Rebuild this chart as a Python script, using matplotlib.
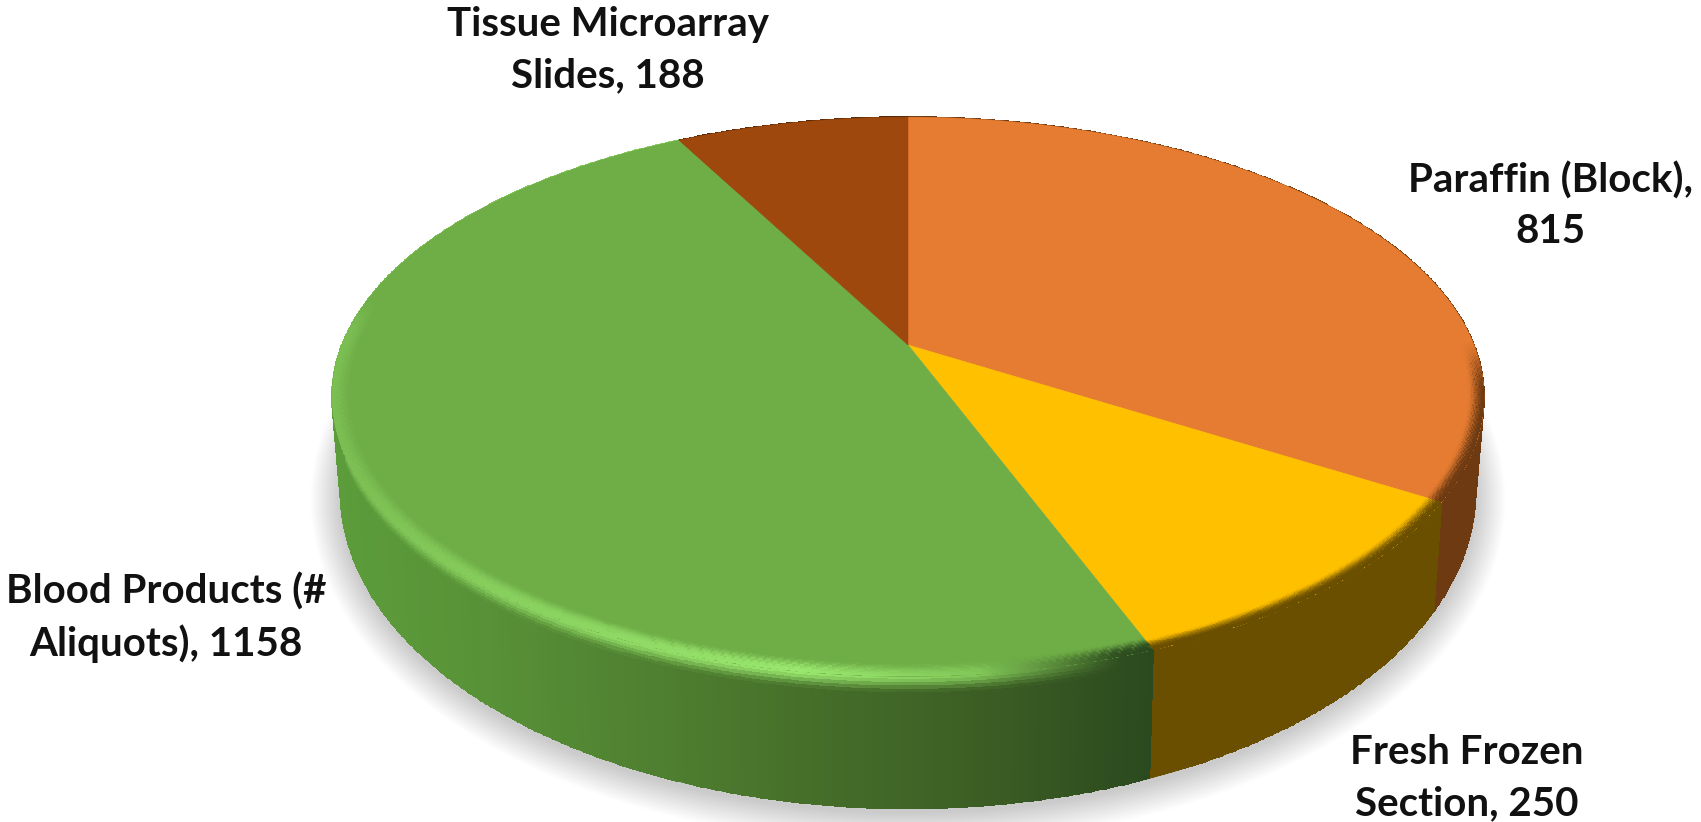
import numpy as np
import matplotlib
matplotlib.use("Agg")
import matplotlib.pyplot as plt
from matplotlib.colors import to_rgb

categories = ["Paraffin (Block)", "Fresh Frozen Section", "Blood Products (# Aliquots)", "Tissue Microarray Slides"]
values = [815, 250, 1158, 188]
labels = ["Paraffin (Block),\n815", "Fresh Frozen\nSection, 250",
          "Blood Products (#\nAliquots), 1158", "Tissue Microarray\nSlides, 188"]
top_colors = ["#e67c31", "#ffc000", "#6fad47", "#9e480e"]
side_colors = ["#6e3a12", "#6b4f00", "#47702a", "#5a2a08"]
label_pos = [(1550, 206), (1467, 778), (166, 618), (608, 50)]

# perspective of the disc, in pixels of the 1701x822 picture
cx, cy = 908, 345
a, b, k = 566, 270, 0.185
bot_sx, bot_sy, bot_y = 0.985, 1.13, 434


def project(th, r=1.0):
    u = r * np.sin(th)
    v = r * np.cos(th)
    d = 1 + k * v
    return cx + a * u / d, cy - b * v / d


def to_bottom(x, y):
    return cx + bot_sx * (x - cx), bot_y + bot_sy * (y - cy)


def mix(c1, c2, t):
    t = np.asarray(t)[..., None]
    return np.asarray(c1) * (1 - t) + np.asarray(c2) * t


def smooth(t):
    t = np.clip(t, 0, 1)
    return t * t * (3 - 2 * t)


def green_side(xm):
    stops = ((0.36, 0.61, 0.23), (0.35, 0.58, 0.22), (0.31, 0.50, 0.19),
             (0.27, 0.43, 0.16), (0.23, 0.36, 0.14), (0.17, 0.29, 0.12))
    return np.stack([np.interp(xm, [340, 453, 653, 820, 1000, 1150], [c[j] for c in stops])
                     for j in range(3)], axis=1)


def green_rim(xm):
    top = np.array(to_rgb(top_colors[2]))
    h = np.interp(xm, [340, 500, 800, 1000], [0.3, 0.6, 1.0, 0.4])
    d = np.interp(xm, [980, 1120], [0, 1])
    return mix(mix(top, bright, h), green_side(xm), d)


def wedge_angles(i):
    n = max(int(np.degrees(edges[i + 1] - edges[i]) * 3), 8)
    return np.linspace(edges[i], edges[i + 1], n)


fig = plt.figure(figsize=(17.01, 8.22), dpi=100)
ax = fig.add_axes([0, 0, 1, 1])
ax.set_xlim(0, 1701)
ax.set_ylim(822, 0)
ax.axis("off")

# soft shadow under the disc
th_all = np.linspace(0, 2 * np.pi, 400)
bx, by = to_bottom(*project(th_all))
for grow in np.linspace(30, 1, 26):
    sx = (566 + grow) / 566
    ax.fill(cx + (bx - cx) * sx, (by - 450) * (335 + grow) / 335 + 450 + 4,
            color="#000000", alpha=0.0075, lw=0, zorder=1)

edges = np.radians(np.concatenate([[0], np.cumsum(values)]) / np.sum(values) * 360)
bright = to_rgb("#9ae86f")

# side wall
for i in range(len(values)):
    th = wedge_angles(i)
    side = np.array(to_rgb(side_colors[i]))
    xt, yt = project(th)
    xb, yb = to_bottom(xt, yt)
    xm = 0.5 * (xt[:-1] + xt[1:])
    if i == 2:
        side_x = green_side(xm)
        rim = green_rim(xm)
    else:
        side_x = np.tile(side, (len(th) - 1, 1))
        rim = side_x.copy()
    rows = np.linspace(0, 1, 40)
    X = np.outer(1 - rows, xt) + np.outer(rows, xb)
    Y = np.outer(1 - rows, yt) + np.outer(rows, yb)
    rm = 0.5 * (rows[:-1] + rows[1:])
    w = smooth(rm / 0.14)[:, None, None]
    C = rim[None, :, :] * (1 - w) + side_x[None, :, :] * w
    ax.fill(np.r_[xt, xb[::-1]], np.r_[yt, yb[::-1]], color=side, lw=0.5, zorder=2)
    ax.pcolormesh(X, Y, C, shading="flat", zorder=3, edgecolors="face", linewidth=0.2)

# top face
for i in range(len(values)):
    xt, yt = project(wedge_angles(i))
    ax.fill(np.r_[cx, xt], np.r_[cy, yt], color=top_colors[i], lw=0.4, zorder=4)

# bevel on the near rim of the top face
for i in range(len(values)):
    th = wedge_angles(i)
    side = np.array(to_rgb(side_colors[i]))
    r0 = 0.965 if i == 2 else 0.972
    radii = np.linspace(r0, 1.0, 13)
    X = np.array([project(th, r)[0] for r in radii])
    Y = np.array([project(th, r)[1] for r in radii])
    thm = 0.5 * (th[:-1] + th[1:])
    xm = project(thm)[0]
    start = 0.2 if i == 2 else 0.02
    fade = smooth((start - np.cos(thm)) / 0.2)
    rim = green_rim(xm) if i == 2 else np.tile(side, (len(thm), 1))
    C = np.zeros((len(radii) - 1, len(thm), 4))
    rr = smooth((0.5 * (radii[:-1] + radii[1:]) - r0) / (1.0 - r0))
    for n, t in enumerate(rr):
        C[n, :, :3] = rim
        C[n, :, 3] = t * fade
    ax.pcolormesh(X, Y, C, shading="flat", zorder=5, edgecolors="none", antialiased=False)

for txt, (lx, ly) in zip(labels, label_pos):
    ax.text(lx, ly, txt, ha="center", va="center", family=["Lato", "DejaVu Sans"],
            fontweight="bold", fontsize=29, linespacing=1.45, color="#111111", zorder=6)

fig.savefig("out.png", dpi=100)
